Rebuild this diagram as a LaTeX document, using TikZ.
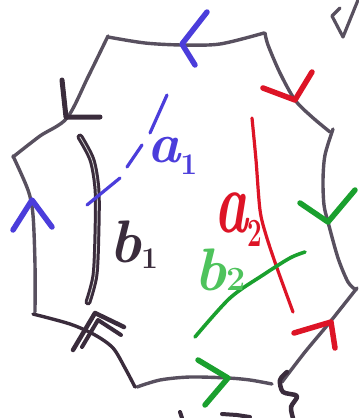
\documentclass[tikz,border=0pt]{standalone}
\usepackage{fontspec}
\definecolor{edgegray}{HTML}{58505F}
\definecolor{darkink}{HTML}{3A2C3C}
\definecolor{penblue}{HTML}{4B3DDB}
\definecolor{penred}{HTML}{DD1426}
\definecolor{pengreen}{HTML}{1AA02E}
\definecolor{lightgreen}{HTML}{4EC35C}
\newcommand{\lab}[4]{{\fontsize{#1}{#1}\selectfont\bfseries\itshape #2}\raisebox{#4}{\fontsize{#3}{#3}\selectfont\bfseries 1}}
\newcommand{\labtwo}[4]{{\fontsize{#1}{#1}\selectfont\bfseries\itshape #2}\raisebox{#4}{\fontsize{#3}{#3}\selectfont\bfseries 2}}
\begin{document}
\begin{tikzpicture}[x=1pt,y=-1pt,line cap=round,line join=round,
  edge/.style={draw=edgegray,line width=3.4pt},
  chev/.style={line width=5.5pt},
  curve/.style={line width=3.2pt},
  lbl/.style={inner sep=0pt,anchor=base west}]
\useasboundingbox (0,0) rectangle (359,418);
\fill[white] (0,0) rectangle (359,418);
% octagon edges
\draw[edge] plot[smooth] coordinates {(108,37) (145,43) (182,45) (220,44) (264,33)};
\draw[edge] plot[smooth] coordinates {(265,33) (268,45) (280,73) (295,100) (312,117) (330,132)};
\draw[edge] plot[smooth] coordinates {(333,129) (325,155) (323,180) (324,205) (328,222) (338,258) (348,282) (356,290)};
\draw[edge] plot[smooth] coordinates {(357,288) (330,322) (305,352) (282,382)};
\draw[edge] plot[smooth] coordinates {(272,384) (250,380) (228,378) (190,377) (160,380) (137,387)};
\draw[edge,draw=darkink] plot[smooth] coordinates {(135,387) (125,368) (113,348) (95,335) (70,324) (33,314)};
\draw[edge] plot[smooth] coordinates {(35,312) (35,265) (33,215) (28,190) (13,156)};
\draw[edge] plot[smooth] coordinates {(13,157) (40,136) (67,118) (88,77) (108,36)};
% arrows on edges
\draw[chev,penblue] (207,12) -- (182,44) -- (195,65);
\draw[chev,penred] (263,88) -- (295,100) -- (312,72);
\draw[chev,pengreen] (300,203) -- (328,222) -- (355,190);
\draw[chev,penred] (294,333) -- (331,322) -- (335,348);
\draw[chev,pengreen] (198,360) -- (228,378) -- (205,405);
\draw[chev,darkink,line width=4.5pt] (73,350) -- (95,313) -- (124,327);
\draw[chev,darkink,line width=4pt] (82,347) -- (98,320) -- (121,335);
\draw[chev,darkink,line width=5pt] (62,80) -- (66,117) -- (100,117);
\draw[chev,penblue] (13,230) -- (32,200) -- (52,227);
% interior curves
\draw[draw=darkink,line width=3pt,double=gray!35,double distance=0.8pt]
  plot[smooth] coordinates {(80,137) (92,160) (97,190) (97,230) (95,275) (88,302)};
\draw[curve,penblue] (167,95) -- (150,133);
\draw[curve,penblue] (142,145) -- (127,167);
\draw[curve,penblue] (120,178) -- (87,205);
\draw[curve,penred] plot[smooth] coordinates {(252,118) (256,160) (260,210) (266,235) (277,268) (293,312)};
\draw[curve,pengreen,line width=3.6pt] plot[smooth] coordinates {(305,252) (290,258) (263,275) (230,298) (195,337)};
% marks near the border
\draw[edgegray,line width=3.2pt] (340,8) -- (332,16) -- (343,37) -- (358,0);
\draw[darkink,line width=4.5pt] plot[smooth] coordinates {(287,372) (280,380) (283,392) (297,396) (291,407) (293,418)};
\draw[darkink,line width=4pt] (180,412) -- (182,418);
\draw[darkink,line width=4pt] (222,414) -- (237,415) -- (250,417);
% labels
\node[lbl,text=penblue] (la1) at (147,162) {\lab{56}{a}{30}{-12pt}};
\node[lbl,text=darkink] (lb1) at (109,262) {\lab{60}{b}{30}{-6pt}};
\node[lbl,text=penred,xscale=0.65] (la2) at (214,232) {\labtwo{88}{a}{40}{-14pt}};
\node[lbl,text=lightgreen] (lb2) at (194,290) {\labtwo{60}{b}{34}{0pt}};
\end{tikzpicture}
\end{document}
